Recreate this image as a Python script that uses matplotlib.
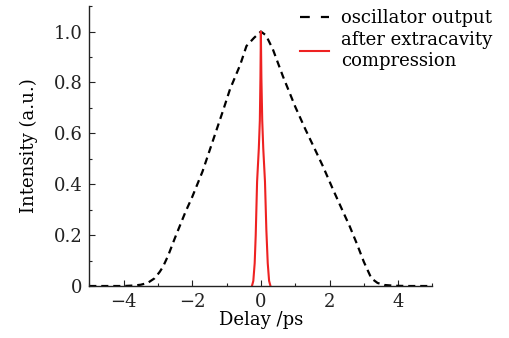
import matplotlib
matplotlib.use("Agg")
import matplotlib.pyplot as plt
from matplotlib.ticker import MultipleLocator, FixedLocator
from matplotlib.lines import Line2D

# Oscillator output (dashed black)
osc_x = [-5.0, -4.5, -4.0, -3.7, -3.5, -3.3, -3.1, -2.95, -2.85, -2.7, -2.5, -2.2, -2.0,
         -1.7, -1.3, -1.1, -0.9, -0.6, -0.42, -0.2, 0.0, 0.15, 0.35, 0.64, 1.0, 1.3,
         1.6, 1.81, 2.1, 2.35, 2.59, 2.8, 3.0, 3.22, 3.4, 3.6, 3.9, 4.3, 5.0]
osc_y = [0.0, 0.0, 0.0, 0.002, 0.005, 0.012, 0.03, 0.055, 0.076, 0.12, 0.19, 0.29, 0.35,
         0.45, 0.61, 0.69, 0.773, 0.87, 0.943, 0.975, 1.0, 0.985, 0.93, 0.825, 0.705, 0.615,
         0.53, 0.47, 0.38, 0.305, 0.234, 0.165, 0.095, 0.03, 0.012, 0.004, 0.001, 0.0, 0.0]

# After extracavity compression (solid red)
cmp_x = [-0.26, -0.22, -0.18, -0.15, -0.11, -0.06, -0.03, -0.012, 0.0, 0.015, 0.04, 0.07, 0.12, 0.16, 0.2, 0.24, 0.28]
cmp_y = [0.0, 0.02, 0.09, 0.2, 0.41, 0.54, 0.65, 0.82, 1.0, 0.82, 0.65, 0.54, 0.41, 0.22, 0.09, 0.02, 0.0]

xticks = [-4, -2, 0, 2, 4]
xticklabels = ["\u22124", "\u22122", "0", "2", "4"]
yticks = [0, 0.2, 0.4, 0.6, 0.8, 1.0]
yticklabels = ["0", "0.2", "0.4", "0.6", "0.8", "1.0"]
labels = ['oscillator output', 'after extracavity\ncompression']

plt.rcParams['font.family'] = ['DejaVu Serif']
plt.rcParams['mathtext.fontset'] = 'dejavuserif'

fig = plt.figure(figsize=(5.10, 3.38), dpi=100)
ax = fig.add_axes([0.175, 0.1538, 0.848 - 0.175, 0.982 - 0.1538])

ax.plot(osc_x, osc_y, color='black', lw=1.6, ls=(0, (3.2, 2.2)))
ax.plot(cmp_x, cmp_y, color='#ee2222', lw=1.5)

ax.set_xlim(-5, 5)
ax.set_ylim(0, 1.1)
ax.spines['top'].set_visible(False)
ax.spines['right'].set_visible(False)
for s in ('left', 'bottom'):
    ax.spines[s].set_linewidth(1.0)
    ax.spines[s].set_color('#222222')

ax.xaxis.set_major_locator(FixedLocator(xticks))
ax.set_xticklabels(xticklabels)
ax.yaxis.set_major_locator(FixedLocator(yticks))
ax.set_yticklabels(yticklabels)
ax.xaxis.set_minor_locator(MultipleLocator(1))
ax.yaxis.set_minor_locator(MultipleLocator(0.1))
ax.tick_params(which='both', direction='in', labelsize=13, colors='#222222')
ax.tick_params(which='major', length=4, width=0.8, pad=5)
ax.tick_params(which='minor', length=2.5, width=0.8)

ax.set_xlabel('Delay /ps', fontsize=13, labelpad=0)
ax.set_ylabel('Intensity (a.u.)', fontsize=13, labelpad=11)

handles = [Line2D([], [], color='black', lw=1.6, ls=(0, (4.4, 5.0))),
           Line2D([], [], color='#ee2222', lw=1.5)]
leg = ax.legend(handles, labels, loc='upper left', bbox_to_anchor=(0.615, 0.99), frameon=False,
                fontsize=13, handlelength=1.6, handletextpad=0.65,
                labelspacing=0.22, borderaxespad=0.0, borderpad=0.0)
for t in leg.get_texts():
    t.set_linespacing(1.2)

fig.savefig('out.png', dpi=100)
